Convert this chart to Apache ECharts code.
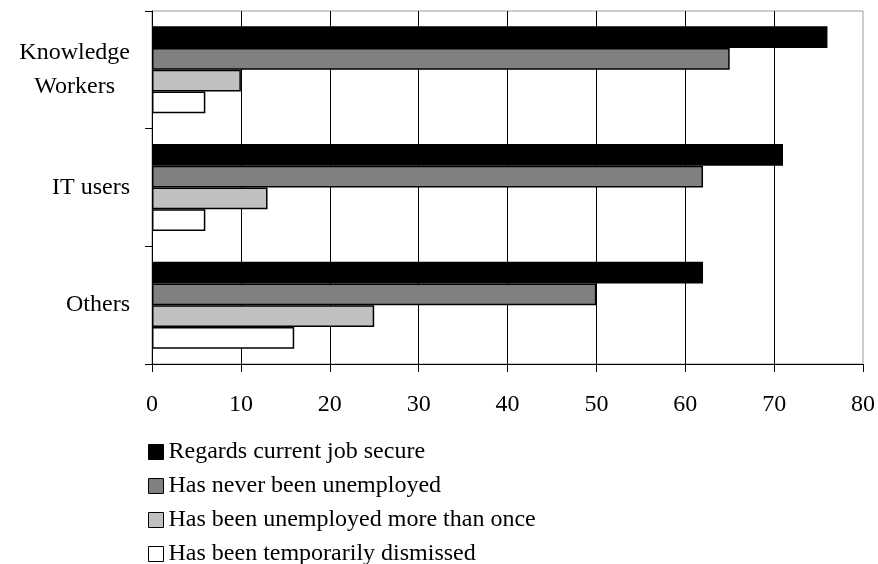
<!DOCTYPE html>
<html>
<head>
<meta charset="utf-8">
<script src="https://cdn.jsdelivr.net/npm/echarts@6/dist/echarts.min.js"></script>
<style>
	html, body { margin: 0; padding: 0; background: #fff; }
	#chart { width: 878px; height: 564px; }
</style>
</head>
<body>
<div id="chart"></div>
<script>
var groups = ['Knowledge Workers', 'IT users', 'Others'];
var seriesNames = ['Regards current job secure', 'Has never been unemployed', 'Has been unemployed more than once', 'Has been temporarily dismissed'];
var jobSecure = [76, 71, 62];
var neverUnemployed = [65, 62, 50];
var unemployedMoreThanOnce = [10, 13, 25];
var temporarilyDismissed = [6, 6, 16];
var xTicks = [0, 10, 20, 30, 40, 50, 60, 70, 80];

var fontFam = '"Liberation Serif", "DejaVu Serif", serif';
var fills = ['#000000', '#808080', '#c0c0c0', '#ffffff'];
var values = [jobSecure, neverUnemployed, unemployedMoreThanOnce, temporarilyDismissed];

function makeChart(containerID){
	var myChart = echarts.init(document.getElementById(containerID));

	var series = [];
	for (var i = 0; i < seriesNames.length; i++) {
		series.push({
			name: seriesNames[i],
			type: 'bar',
			data: values[i],
			barGap: '0%',
			barCategoryGap: '26%',
			itemStyle: {
				color: fills[i],
				borderColor: '#000',
				borderWidth: 1.5
			},
			emphasis: { disabled: true }
		});
	}

	var option = {
		animation: false,
		backgroundColor: '#fff',
		textStyle: { fontFamily: fontFam },
		grid: {
			left: 152,
			right: 14,
			top: 11,
			bottom: 200,
			show: true,
			borderColor: '#999',
			borderWidth: 1,
			containLabel: false
		},
		legend: {
			orient: 'vertical',
			left: 148,
			top: 440,
			height: 140,
			padding: 0,
			itemWidth: 15,
			itemHeight: 15,
			itemGap: 10,
			itemTextGap: 9,
			icon: 'rect',
			data: seriesNames,
			itemStyle: { borderColor: '#000', borderWidth: 1 },
			textStyle: { fontFamily: fontFam, fontSize: 24, color: '#000' }
		},
		xAxis: {
			type: 'value',
			min: 0,
			max: 80,
			interval: 10,
			axisLine: { show: true, lineStyle: { color: '#000', width: 1 } },
			axisTick: { show: true, length: 8, lineStyle: { color: '#000' } },
			axisLabel: {
				margin: 29,
				fontSize: 24,
				color: '#000',
				fontFamily: fontFam,
				formatter: function (v) { return xTicks.indexOf(v) >= 0 ? String(v) : ''; }
			},
			splitLine: { show: true, showMaxLine: false, lineStyle: { color: '#000', width: 1 } }
		},
		yAxis: {
			type: 'category',
			data: groups,
			inverse: true,
			axisLine: { show: true, lineStyle: { color: '#000', width: 1 } },
			axisTick: { show: true, length: 7, inside: false, lineStyle: { color: '#000' } },
			axisLabel: {
				margin: 22,
				color: '#000',
				fontSize: 24,
				fontFamily: fontFam,
				formatter: function (v) {
					if (v === 'Knowledge Workers') return '{c|Knowledge}\n{c|Workers}';
					return v;
				},
				rich: {
					c: { align: 'center', fontSize: 24, lineHeight: 34, fontFamily: fontFam, color: '#000' }
				}
			},
			splitLine: { show: false }
		},
		series: series
	};
	myChart.setOption(option);
}

makeChart('chart');
</script>
</body>
</html>
